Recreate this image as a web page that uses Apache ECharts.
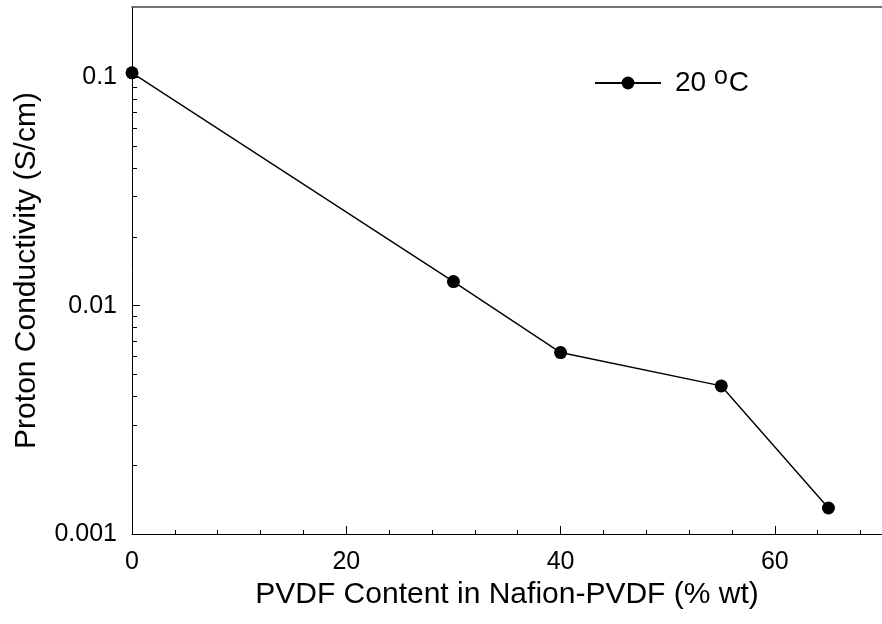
<!DOCTYPE html>
<html>
<head>
<meta charset="utf-8">
<script src="https://cdn.jsdelivr.net/npm/echarts@6/dist/echarts.min.js"></script>
<style>
html,body{margin:0;padding:0;background:#fff;}
#chart{width:882px;height:624px;}
</style>
</head>
<body>
<div id="chart"></div>
<script>
// Data
const pvdfContent = [0, 30, 40, 55, 65];                       // % wt
const conductivity = [0.1045, 0.01274, 0.00623, 0.00445, 0.0013]; // S/cm at 20 °C
const seriesName = '20 °C';
const yMajorTicks = [0.001, 0.01, 0.1];
const yMinorTicks = [0.002, 0.003, 0.004, 0.005, 0.006, 0.007, 0.008, 0.009,
                     0.02, 0.03, 0.04, 0.05, 0.06, 0.07, 0.08, 0.09];
const xTitle = 'PVDF Content in Nafion-PVDF (% wt)';
const yTitle = 'Proton Conductivity (S/cm)';

const FONT = "'Liberation Sans', Arial, sans-serif";
const chart = echarts.init(document.getElementById('chart'), null, {renderer: 'canvas'});

const points = pvdfContent.map((x, i) => [x, conductivity[i]]);
const gridBox = {left: 132, right: -4, top: 7, bottom: 90, containLabel: false};

chart.setOption({
  animation: false,
  backgroundColor: '#fff',
  grid: [Object.assign({}, gridBox), Object.assign({}, gridBox)],
  legend: {
    data: [seriesName],
    left: 589,
    top: 60,
    itemWidth: 66,
    itemHeight: 16,
    selectedMode: false,
    formatter: () => '20 {sup|o}C',
    textStyle: {
      fontFamily: FONT, fontSize: 28, color: '#000', padding: [0, 0, 0, 9],
      rich: {sup: {fontFamily: FONT, fontSize: 25, color: '#000', verticalAlign: 'bottom', lineHeight: 25, padding: [0, 1, 7, 0]}}
    }
  },
  xAxis: [{
    gridIndex: 0,
    type: 'value', min: 0, max: 70, interval: 20, position: 'bottom',
    name: xTitle, nameLocation: 'middle', nameGap: 42,
    nameTextStyle: {fontFamily: FONT, fontSize: 30, color: '#000'},
    axisLine: {show: true, lineStyle: {color: '#000', width: 1}},
    axisTick: {show: true, inside: true, length: 8, lineStyle: {color: '#000'}},
    minorTick: {show: true, splitNumber: 5, length: 4, lineStyle: {color: '#000'}},
    axisLabel: {fontFamily: FONT, fontSize: 25, color: '#000', margin: 16, showMaxLabel: false},
    splitLine: {show: false}, minorSplitLine: {show: false}
  }, {
    gridIndex: 0,
    type: 'value', min: 0, max: 70, position: 'top',
    axisLine: {show: true, lineStyle: {color: '#444', width: 1.5}},
    axisTick: {show: false}, axisLabel: {show: false}, splitLine: {show: false}
  }, {
    gridIndex: 1,
    type: 'value', min: 0, max: 70, show: false
  }],
  yAxis: [{
    gridIndex: 0,
    type: 'log', min: 0.001, max: 0.203,
    name: yTitle, nameLocation: 'middle', nameGap: 90, nameRotate: 90,
    nameTextStyle: {fontFamily: FONT, fontSize: 30, color: '#000'},
    axisLine: {show: true, lineStyle: {color: '#000', width: 1}},
    axisTick: {show: true, inside: true, length: 8, customValues: yMajorTicks, lineStyle: {color: '#000', width: 1}},
    axisLabel: {fontFamily: FONT, fontSize: 25, color: '#000', margin: 15,
      customValues: yMajorTicks, formatter: v => String(v)},
    splitLine: {show: false}
  }, {
    gridIndex: 1,
    type: 'log', min: 0.001, max: 0.203,
    axisLine: {show: false},
    axisTick: {show: true, inside: true, length: 5, customValues: yMinorTicks, lineStyle: {color: '#000', width: 1}},
    axisLabel: {show: false}, splitLine: {show: false}
  }],
  series: [{
    name: seriesName,
    type: 'line',
    xAxisIndex: 0, yAxisIndex: 0,
    data: points,
    symbol: 'circle', symbolSize: 13,
    itemStyle: {color: '#000'},
    lineStyle: {color: '#000', width: 1.4},
    emphasis: {disabled: true}
  }]
});
</script>
</body>
</html>
